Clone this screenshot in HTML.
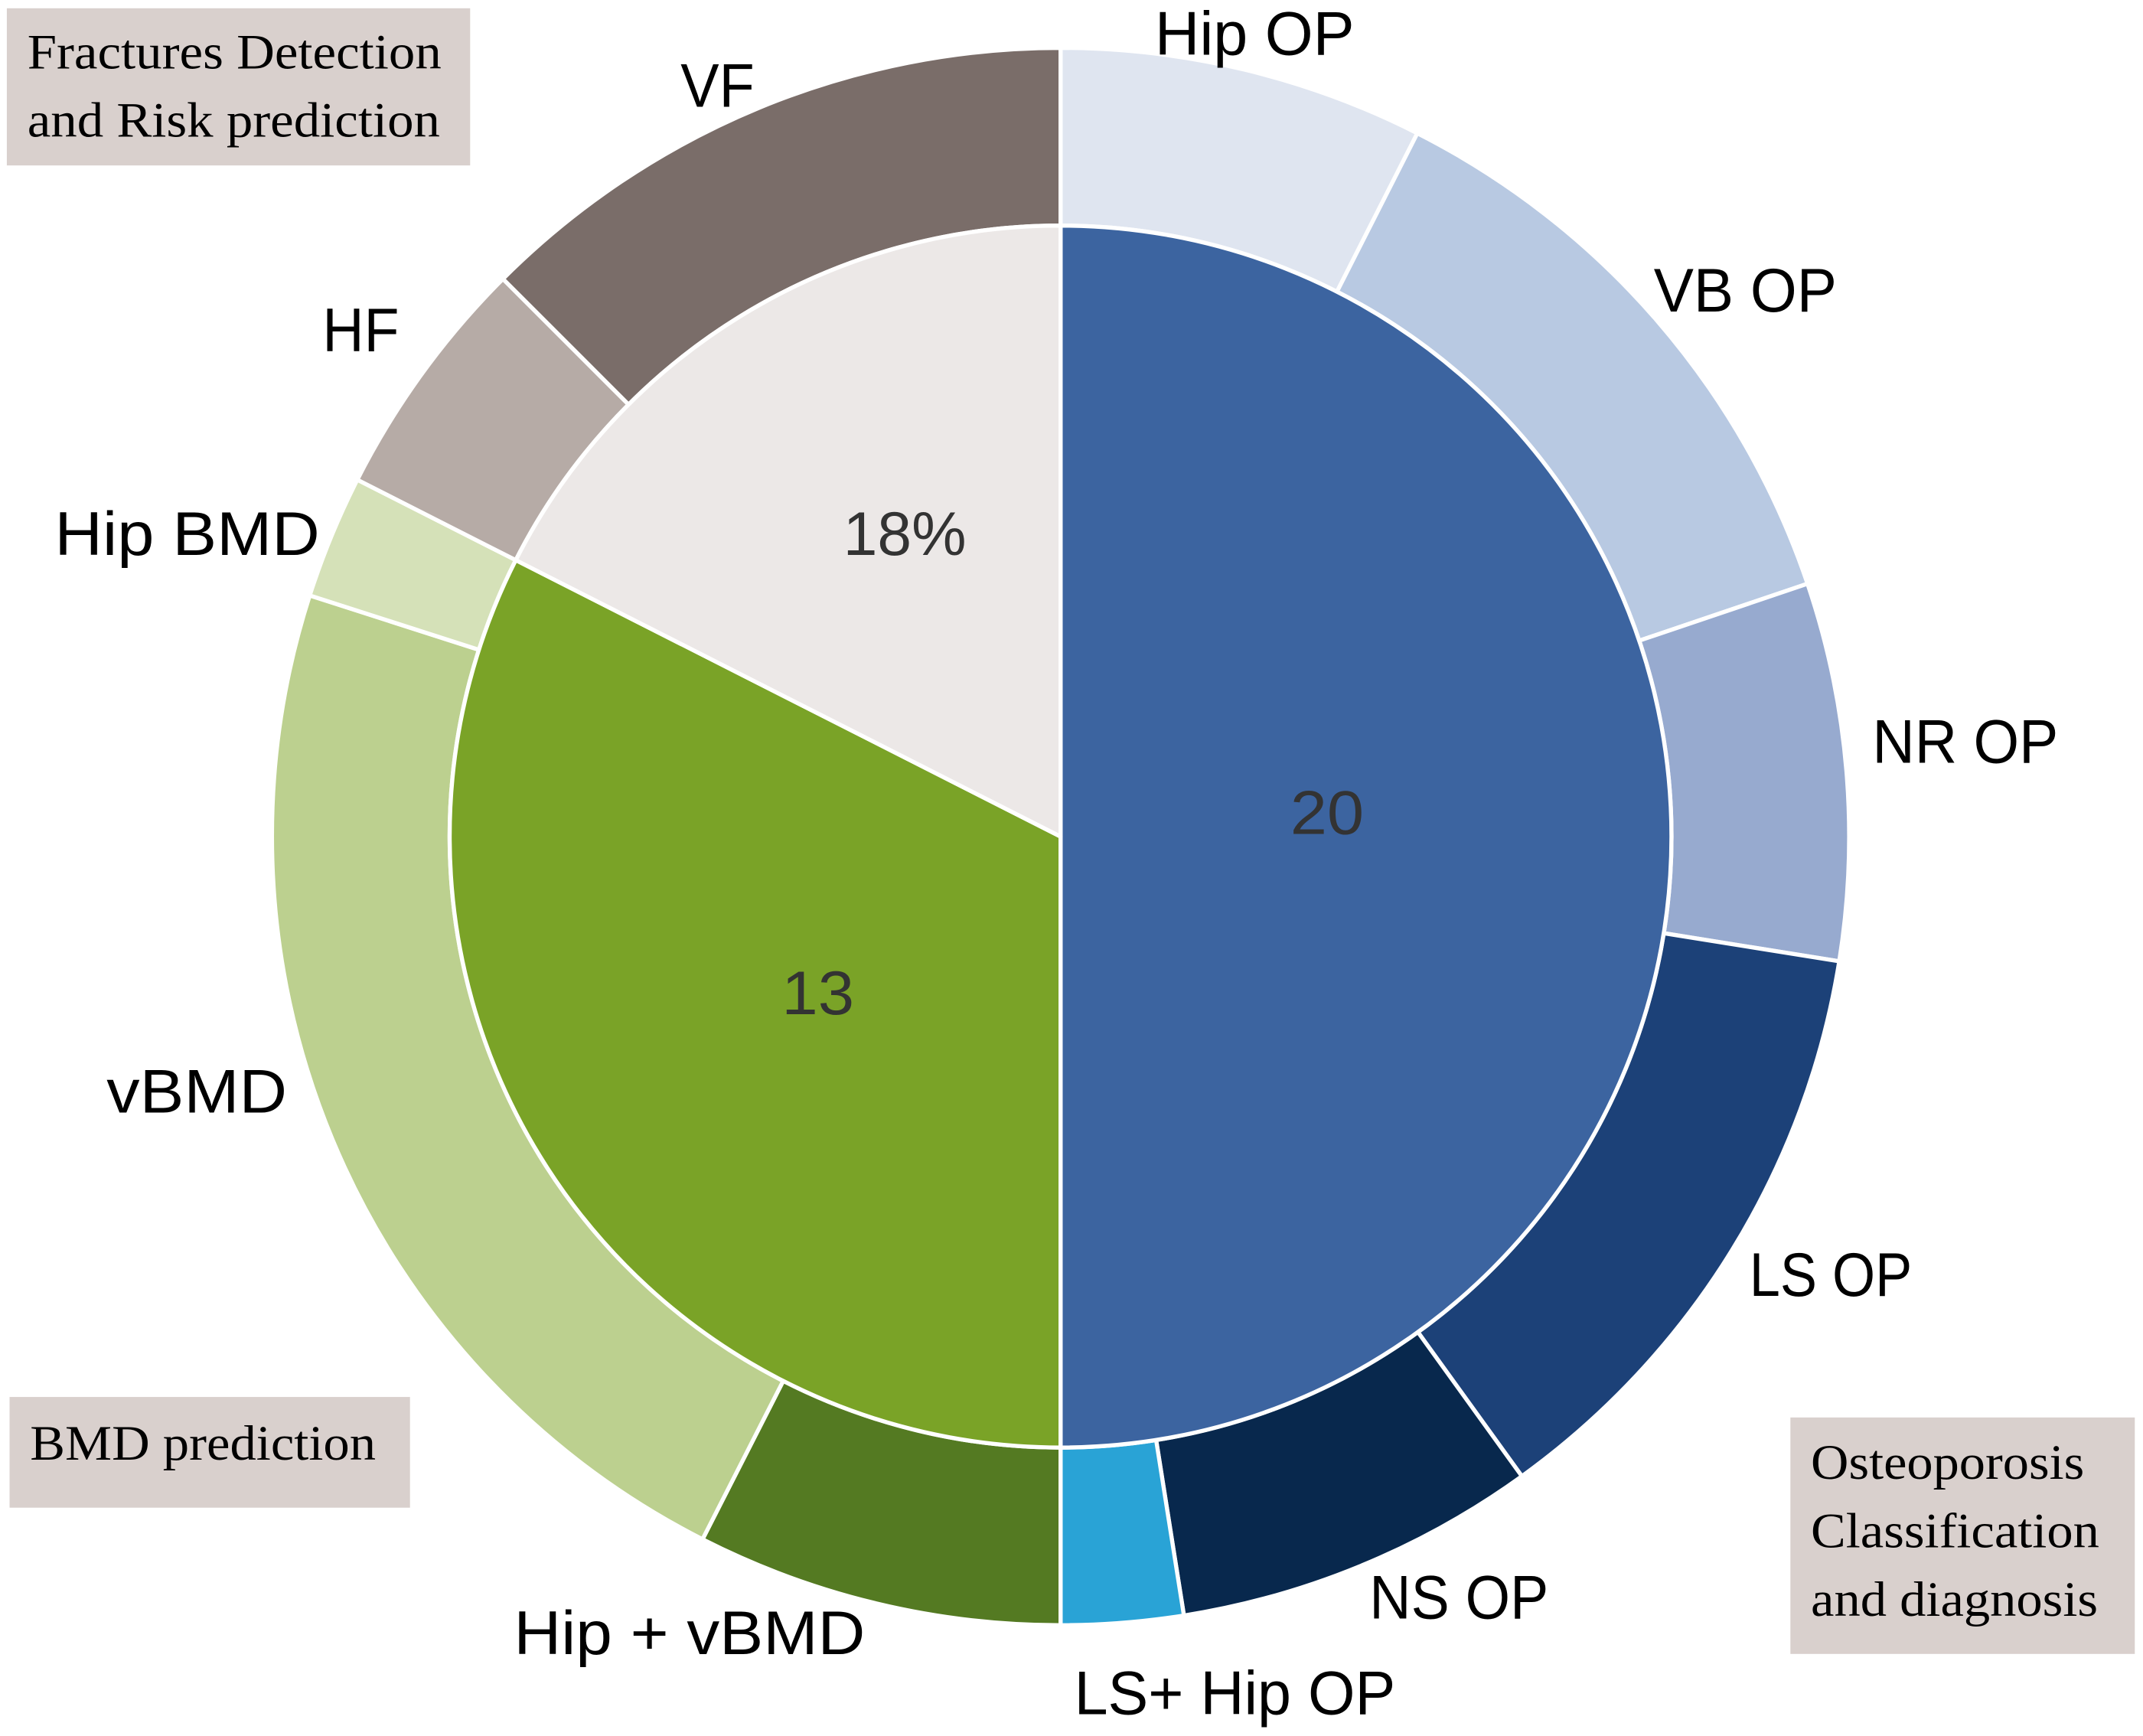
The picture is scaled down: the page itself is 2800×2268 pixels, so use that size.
<!DOCTYPE html>
<html><head><meta charset="utf-8"><style>
html,body{margin:0;padding:0;background:#fff;}
svg{display:block;}
.l{font-family:"Liberation Sans",sans-serif;font-size:45px;fill:#000;}
.n{font-family:"Liberation Sans",sans-serif;font-size:45px;fill:#333;}
.b{font-family:"Liberation Serif",serif;font-size:36px;fill:#000;}
</style></head><body>
<svg id="s" width="2800" height="2268" viewBox="0 0 1568 1270" xmlns="http://www.w3.org/2000/svg">
<rect width="1568" height="1270" fill="#fff"/>
<g id="g"></g>
<rect x="5" y="6" width="339" height="115" fill="#d9d0cd"/>
<text class="b" x="20" y="50" textLength="303" lengthAdjust="spacingAndGlyphs">Fractures Detection</text>
<text class="b" x="20" y="100" textLength="302" lengthAdjust="spacingAndGlyphs">and Risk prediction</text>
<rect x="7" y="1022" width="293" height="81" fill="#d9d0cd"/>
<text class="b" x="22" y="1068" textLength="253" lengthAdjust="spacingAndGlyphs">BMD prediction</text>
<rect x="1310" y="1037" width="252" height="173" fill="#d9d0cd"/>
<text class="b" x="1325" y="1082" textLength="200" lengthAdjust="spacingAndGlyphs">Osteoporosis</text>
<text class="b" x="1325" y="1132" textLength="211" lengthAdjust="spacingAndGlyphs">Classification</text>
<text class="b" x="1325" y="1182" textLength="210" lengthAdjust="spacingAndGlyphs">and diagnosis</text>
<text class="l" x="845" y="40" textLength="146" lengthAdjust="spacingAndGlyphs">Hip OP</text>
<text class="l" x="1210" y="228" textLength="134" lengthAdjust="spacingAndGlyphs">VB OP</text>
<text class="l" x="1370" y="558" textLength="136" lengthAdjust="spacingAndGlyphs">NR OP</text>
<text class="l" x="1280" y="948" textLength="119" lengthAdjust="spacingAndGlyphs">LS OP</text>
<text class="l" x="1002" y="1184" textLength="131" lengthAdjust="spacingAndGlyphs">NS OP</text>
<text class="l" x="786" y="1254" textLength="235" lengthAdjust="spacingAndGlyphs">LS+ Hip OP</text>
<text class="l" x="376" y="1210" textLength="257" lengthAdjust="spacingAndGlyphs">Hip + vBMD</text>
<text class="l" x="78" y="814" textLength="132" lengthAdjust="spacingAndGlyphs">vBMD</text>
<text class="l" x="40" y="406" textLength="194" lengthAdjust="spacingAndGlyphs">Hip BMD</text>
<text class="l" x="236" y="257" textLength="56" lengthAdjust="spacingAndGlyphs">HF</text>
<text class="l" x="498" y="78" textLength="54" lengthAdjust="spacingAndGlyphs">VF</text>
<text class="n" x="617" y="406" textLength="90" lengthAdjust="spacingAndGlyphs">18%</text>
<text class="n" x="944" y="610" textLength="54" lengthAdjust="spacingAndGlyphs">20</text>
<text class="n" x="572" y="742" textLength="53" lengthAdjust="spacingAndGlyphs">13</text>
</svg>
<script>
var cx=776,cy=612,ri=447,ro=577;
function pt(r,a){a=a*Math.PI/180;return [cx+r*Math.sin(a),cy-r*Math.cos(a)];}
function sector(r0,r1,a0,a1,c){
 var large=(a1-a0)>180?1:0,p1=pt(r1,a0),p2=pt(r1,a1),d;
 if(r0==0){d="M"+cx+","+cy+"L"+p1+"A"+r1+","+r1+" 0 "+large+" 1 "+p2+"Z";}
 else{var p3=pt(r0,a1),p4=pt(r0,a0);d="M"+p1+"A"+r1+","+r1+" 0 "+large+" 1 "+p2+"L"+p3+"A"+r0+","+r0+" 0 "+large+" 0 "+p4+"Z";}
 return '<path d="'+d+'" fill="'+c+'" stroke="#fff" stroke-width="3" stroke-linejoin="round"/>';
}
var h="";
var outer=[[0,26.9,"#dfe5f0"],[26.9,71.3,"#b8c9e2"],[71.3,99.1,"#97aacf"],[99.1,144.2,"#1c4178"],[144.2,171,"#08284d"],[171,180,"#29a3d6"],[180,207,"#547a22"],[207,287.8,"#bcd08f"],[287.8,296.9,"#d5e1b8"],[296.9,315,"#b6aba6"],[315,360,"#7a6d69"]];
outer.forEach(function(o){h+=sector(ri,ro,o[0],o[1],o[2]);});
[[0,180,"#3c64a0"],[180,296.9,"#7aa327"],[296.9,360,"#ece8e7"]].forEach(function(o){h+=sector(0,ri,o[0],o[1],o[2]);});
document.getElementById("g").innerHTML=h;
</script>
</body></html>
